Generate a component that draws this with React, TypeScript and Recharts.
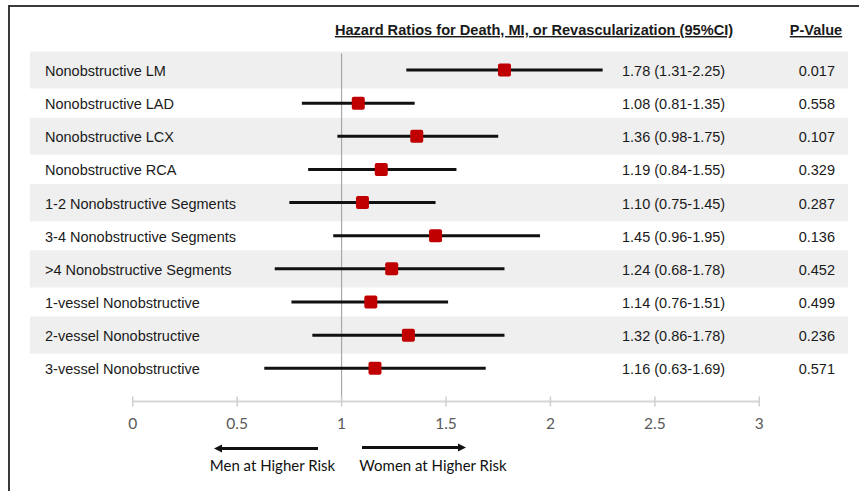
import React from 'react';
import {
  ComposedChart,
  Scatter,
  ErrorBar,
  XAxis,
  YAxis,
  ReferenceArea,
  ReferenceLine,
} from 'recharts';

const LABELS = [
  'Nonobstructive LM',
  'Nonobstructive LAD',
  'Nonobstructive LCX',
  'Nonobstructive RCA',
  '1-2 Nonobstructive Segments',
  '3-4 Nonobstructive Segments',
  '>4 Nonobstructive Segments',
  '1-vessel Nonobstructive',
  '2-vessel Nonobstructive',
  '3-vessel Nonobstructive',
];
const HR = [1.78, 1.08, 1.36, 1.19, 1.1, 1.45, 1.24, 1.14, 1.32, 1.16];
const LOWER = [1.31, 0.81, 0.98, 0.84, 0.75, 0.96, 0.68, 0.76, 0.86, 0.63];
const UPPER = [2.25, 1.35, 1.75, 1.55, 1.45, 1.95, 1.78, 1.51, 1.78, 1.69];
const P_VALUES = ['0.017', '0.558', '0.107', '0.329', '0.287', '0.136', '0.452', '0.499', '0.236', '0.571'];
const X_TICKS = [0, 0.5, 1, 1.5, 2, 2.5, 3];
const SHADED_ROWS = [0, 2, 4, 6, 8];

const data = LABELS.map((label, i) => ({
  label,
  x: HR[i],
  y: i,
  err: [HR[i] - LOWER[i], UPPER[i] - HR[i]],
}));

const ROW_IDX = LABELS.map((_, i) => i);
const ARIAL = '"Liberation Sans", Arial, Helvetica, sans-serif';
const CALIBRI = 'Lato, "Open Sans", sans-serif';

const LeftTick = (props: any) => {
  const { y, payload } = props;
  return (
    <text x={45} y={y + 1} dominantBaseline="central" fontFamily={ARIAL} fontSize={14.5} fill="#1a1a1a">
      {LABELS[payload.value]}
    </text>
  );
};

const RightTick = (props: any) => {
  const { y, payload } = props;
  const i = payload.value;
  return (
    <g>
      <text x={622} y={y + 1} dominantBaseline="central" fontFamily={ARIAL} fontSize={14.5} fill="#1a1a1a">
        {`${HR[i].toFixed(2)} (${LOWER[i].toFixed(2)}-${UPPER[i].toFixed(2)})`}
      </text>
      <text x={835} y={y + 1} textAnchor="end" dominantBaseline="central" fontFamily={ARIAL} fontSize={14.5} fill="#1a1a1a">
        {P_VALUES[i]}
      </text>
    </g>
  );
};

const XTick = (props: any) => {
  const { x, y, payload } = props;
  return (
    <g>
      <line x1={x} x2={x} y1={y - 5} y2={y + 5} stroke="#cfcfcf" strokeWidth={1.5} />
      <text x={x} y={y + 22} textAnchor="middle" dominantBaseline="central" fontFamily={CALIBRI} fontSize={15.5} fill="#595959">
        {String(payload.value)}
      </text>
    </g>
  );
};

const Square = (props: any) => {
  const { cx, cy } = props;
  return <rect x={cx - 6.5} y={cy - 6.5} width={13} height={13} rx={2} fill="#c00000" />;
};

const Nothing = () => <g />;

export default function App() {
  return (
    <div style={{ position: 'absolute', left: 0, top: 0, width: 859, height: 491, background: '#fff' }}>
      <ComposedChart
        width={859}
        height={491}
        data={data}
        margin={{ top: 36.9, right: 0, bottom: 59.6, left: 0 }}
      >
        <XAxis
          type="number"
          dataKey="x"
          domain={[0, 3]}
          ticks={X_TICKS}
          allowDataOverflow
          height={30}
          tickLine={false}
          tickSize={0}
          tickMargin={0}
          axisLine={{ stroke: '#d6d6d6', strokeWidth: 2 }}
          tick={<XTick />}
        />
        <YAxis
          yAxisId="left"
          type="number"
          dataKey="y"
          domain={[-1, 10]}
          allowDataOverflow
          reversed
          ticks={ROW_IDX}
          width={132.7}
          axisLine={false}
          tickLine={false}
          tick={<LeftTick />}
          interval={0}
        />
        <YAxis
          yAxisId="right"
          orientation="right"
          type="number"
          dataKey="y"
          domain={[-1, 10]}
          allowDataOverflow
          reversed
          ticks={ROW_IDX}
          width={99.7}
          axisLine={false}
          tickLine={false}
          tick={<RightTick />}
          interval={0}
        />
        {SHADED_ROWS.map((r) => (
          <ReferenceArea
            key={r}
            yAxisId="left"
            x1={-0.492}
            x2={3.425}
            y1={r - 0.56}
            y2={r + 0.56}
            fill="#efefef"
            fillOpacity={1}
            stroke="none"
            ifOverflow="visible"
          />
        ))}
        <ReferenceLine
          yAxisId="left"
          segment={[{ x: 1, y: -0.5 }, { x: 1, y: 10 }]}
          stroke="#a8a8a8"
          strokeWidth={1.2}
          ifOverflow="visible"
        />
        <Scatter yAxisId="right" data={data} dataKey="y" shape={<Nothing />} isAnimationActive={false} />
        <Scatter yAxisId="left" data={data} dataKey="y" shape={<Square />} isAnimationActive={false}>
          <ErrorBar dataKey="err" direction="x" width={0} stroke="#111" strokeWidth={3} />
        </Scatter>
      </ComposedChart>
      <svg
        width={859}
        height={491}
        style={{ position: 'absolute', left: 0, top: 0, pointerEvents: 'none' }}
      >
        <line x1={8} x2={859} y1={6} y2={6} stroke="#3a3a3a" strokeWidth={2} />
        <line x1={9} x2={9} y1={5} y2={491} stroke="#3a3a3a" strokeWidth={2} />
        <text
          x={534}
          y={35}
          textAnchor="middle"
          fontFamily={ARIAL}
          fontSize={14.6}
          fontWeight="bold"
          fill="#1a1a1a"
          style={{ textDecoration: 'underline' }}
        >
          Hazard Ratios for Death, MI, or Revascularization (95%CI)
        </text>
        <text
          x={816}
          y={35}
          textAnchor="middle"
          fontFamily={ARIAL}
          fontSize={14.5}
          fontWeight="bold"
          fill="#1a1a1a"
          style={{ textDecoration: 'underline' }}
        >
          P-Value
        </text>
        <line x1={221} x2={318} y1={448.5} y2={448.5} stroke="#111" strokeWidth={3} />
        <polygon points="214,448.5 222,444.5 222,452.5" fill="#111" />
        <line x1={362} x2={458} y1={447.5} y2={447.5} stroke="#111" strokeWidth={3} />
        <polygon points="466,447.5 458,443.5 458,451.5" fill="#111" />
        <text x={272.5} y={465} textAnchor="middle" dominantBaseline="central" fontFamily={CALIBRI} fontSize={15} fill="#111">
          Men at Higher Risk
        </text>
        <text x={433} y={465} textAnchor="middle" dominantBaseline="central" fontFamily={CALIBRI} fontSize={15} fill="#111">
          Women at Higher Risk
        </text>
      </svg>
    </div>
  );
}
